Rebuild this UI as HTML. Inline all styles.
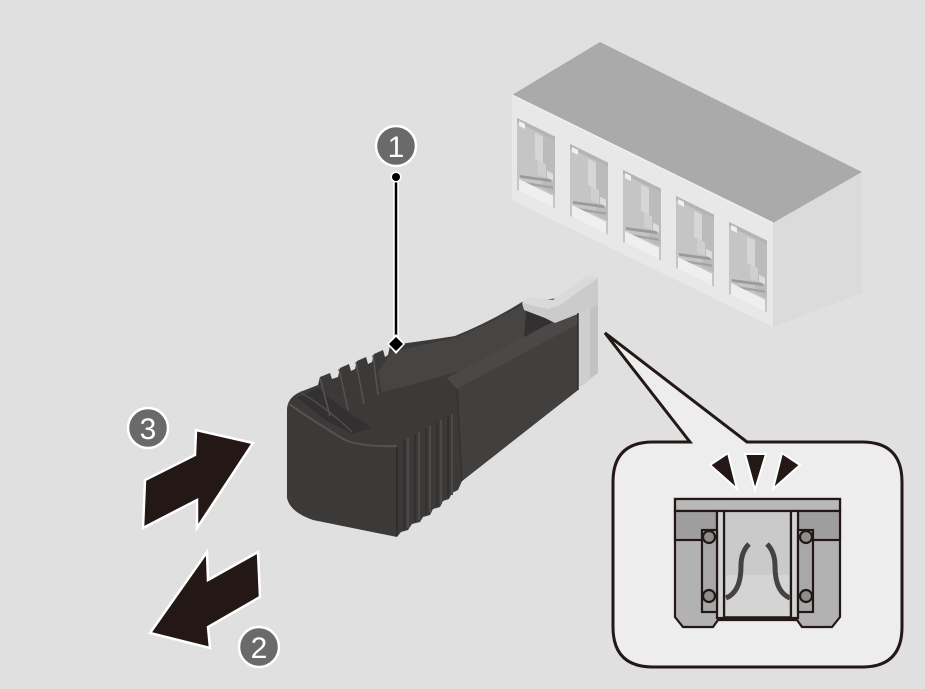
<!DOCTYPE html>
<html>
<head>
<meta charset="utf-8">
<style>
html,body{margin:0;padding:0;background:#dfe0df;}
svg{display:block;}
text{font-family:"Liberation Sans","DejaVu Sans",sans-serif;}
</style>
</head>
<body>
<svg width="925" height="689" viewBox="0 0 925 689" xmlns="http://www.w3.org/2000/svg">
  <rect x="0" y="0" width="925" height="689" fill="#dfe0df"/>

  <!-- ===== Connector block ===== -->
  <defs>
    <g id="port">
      <rect x="0" y="0" width="38" height="72" fill="#c4c5c4"/>
      <rect x="0" y="0" width="38" height="4" fill="#b4b4b4"/>
      <rect x="2" y="2" width="6" height="5" fill="#f0f0f0"/>
      <rect x="26" y="4" width="12" height="54" fill="#bbbbbb"/>
      <rect x="18" y="6" width="8" height="26" fill="#d6d6d6"/>
      <rect x="21" y="32" width="8" height="14" fill="#cfcfcf"/>
      <rect x="30" y="38" width="6" height="7" fill="#dcdcdc"/>
      <line x1="3" y1="57" x2="34" y2="46" stroke="#9a9a9a" stroke-width="2.6"/>
      <line x1="6" y1="62" x2="36" y2="52" stroke="#a2a2a2" stroke-width="2.2"/>
      <rect x="2" y="60" width="34" height="12" fill="#efefef"/>
    </g>
  </defs>
  <polygon points="512,95 600,42 862,172 773,223" fill="#a9aaa9"/>
  <polygon points="512,95 773,223 773,327 512,200" fill="#e8e8e8"/>
  <polygon points="773,223 862,172 862,293 773,327" fill="#dadbda"/>
  <line x1="512" y1="95" x2="773" y2="223" stroke="#f0f0f0" stroke-width="1.5"/>
  <use href="#port" transform="translate(517,118) skewY(26.1)"/>
  <use href="#port" transform="translate(570,144) skewY(26.1)"/>
  <use href="#port" transform="translate(623,170) skewY(26.1)"/>
  <use href="#port" transform="translate(676,196) skewY(26.1)"/>
  <use href="#port" transform="translate(729,222) skewY(26.1)"/>

  <!-- ===== Plug ===== -->
  <!-- light block at end -->
  <polygon points="576,309 598,300 598,373 582,386 576,386" fill="#cfcfcf"/>
  <polygon points="590,304 598,300 598,373 590,378" fill="#c2c2c2"/>
  <rect x="548" y="398" width="6" height="8" fill="#bdbdbd"/>
  <!-- silhouette -->
  <path d="M287,410 Q287,398 300,392 L318,385
    L320,377 L330,373 L332,379
    L338,377 L340,368 L349,364 L351,371
    L355,369 L357,361 L366,357 L368,364
    L372,362 L374,354 L383,350 L385,357
    L388,355 L390,346 L400,344
    Q430,340 455,336 Q490,322 522,302 L560,298 L578,313 L578,390
    L462,481 L458,490 L452,493 L449,499 L443,501 L440,507 L433,509 L430,515 L423,517 L420,522 L412,524 L408,530 L401,532 L397,537
    L313,520 Q290,512 287,498 Z" fill="#3c3a39"/>
  <!-- channel behind lever -->
  <polygon points="513,308 560,299 562,318 525,338" fill="#323030"/>
  <!-- lever arm top face -->
  <path d="M378,372 L392,352 Q425,344 455,338 Q490,324 523,304 L526,312 L524,337 Q505,350 487,362 Q440,378 382,392 Z" fill="#474544"/>
  <!-- right block top strip -->
  <polygon points="447,378 560,318 578,316 578,324 457,389" fill="#4b4948"/>
  <!-- right block side face -->
  <polygon points="457,389 578,324 578,390 462,481" fill="#42403f"/>
  <line x1="457" y1="389" x2="462" y2="481" stroke="#343231" stroke-width="1.5"/>
  <!-- cap recess -->
  <polygon points="298,398 318,388 345,410 372,428 352,434 325,420" fill="#323030"/>
  <!-- cap rim highlight -->
  <path d="M289,404 Q318,424 345,440 Q362,447 397,446" fill="none" stroke="#555352" stroke-width="2"/>
  <path d="M300,392 Q330,410 352,432" fill="none" stroke="#4e4c4b" stroke-width="1.5"/>
  <line x1="397" y1="447" x2="397" y2="536" stroke="#2f2d2d" stroke-width="2"/>
  <!-- ribs on side -->
  <g stroke="#4d4b4a" stroke-width="2">
    <line x1="408" y1="438" x2="408" y2="528"/>
    <line x1="419" y1="432" x2="419" y2="520"/>
    <line x1="430" y1="426" x2="430" y2="512"/>
    <line x1="441" y1="420" x2="441" y2="504"/>
    <line x1="452" y1="414" x2="452" y2="495"/>
  </g>
  <g stroke="#2f2d2d" stroke-width="1.5">
    <line x1="404" y1="440" x2="404" y2="530"/>
    <line x1="415" y1="434" x2="415" y2="522"/>
    <line x1="426" y1="428" x2="426" y2="514"/>
    <line x1="437" y1="422" x2="437" y2="506"/>
    <line x1="448" y1="416" x2="448" y2="497"/>
  </g>
  <!-- top ribs -->
  <g stroke="#555352" stroke-width="1.5">
    <line x1="320" y1="378" x2="330" y2="416"/>
    <line x1="339" y1="369" x2="348" y2="410"/>
    <line x1="356" y1="362" x2="364" y2="404"/>
    <line x1="373" y1="355" x2="378" y2="395"/>
  </g>
  <!-- light latch tab -->
  <polygon points="522,303 530,297 553,300 588,275 598,278 598,305 578,314 555,323 545,318 524,310" fill="#cbcbcb"/>
  <polygon points="522,303 530,297 553,300 588,275 598,278 560,305 548,309" fill="#dadada"/>
  <line x1="578" y1="313" x2="578" y2="390" stroke="#2e2c2c" stroke-width="1.5"/>

  <!-- ===== Leader line 1 ===== -->
  <line x1="396" y1="176" x2="396" y2="343" stroke="#ffffff" stroke-width="5.5"/>
  <line x1="396" y1="176" x2="396" y2="343" stroke="#000000" stroke-width="2.5"/>
  <circle cx="396" cy="177" r="5.5" fill="#ffffff"/>
  <circle cx="396" cy="177" r="4" fill="#000000"/>
  <polygon points="396,334 405,344 396,354 387,344" fill="#ffffff"/>
  <polygon points="396,337 403,344 396,351 389,344" fill="#000000"/>

  <!-- ===== Number badges ===== -->
  <circle cx="396" cy="146" r="20" fill="#6b6a6a" stroke="#ffffff" stroke-width="2.5"/>
  <text x="396" y="157" text-anchor="middle" font-size="30" fill="#ffffff">1</text>
  <circle cx="148" cy="428" r="20" fill="#6b6a6a" stroke="#ffffff" stroke-width="2.5"/>
  <text x="148" y="439" text-anchor="middle" font-size="30" fill="#ffffff">3</text>
  <circle cx="259" cy="647" r="20" fill="#6b6a6a" stroke="#ffffff" stroke-width="2.5"/>
  <text x="259" y="658" text-anchor="middle" font-size="30" fill="#ffffff">2</text>

  <!-- ===== Arrows ===== -->
  <polygon points="143,528 145,480 195,455 196,430 253,443 197,528 197,500" fill="#231815" stroke="#ffffff" stroke-width="2.5" stroke-linejoin="miter"/>
  <polygon points="258,552 260,597 208,627 210,648 150,633 207,552 208,580" fill="#231815" stroke="#ffffff" stroke-width="2.5" stroke-linejoin="miter"/>

  <!-- ===== Callout ===== -->
  <path d="M690,442 L605,333 L747,442 L862,442 Q902,442 902,482 L902,627 Q902,667 862,667 L653,667 Q613,667 613,627 L613,482 Q613,442 653,442 Z"
        fill="#ededed" stroke="#231815" stroke-width="3" stroke-linejoin="miter"/>
  <g fill="#231815" stroke="#ffffff" stroke-width="2" stroke-linejoin="miter">
    <polygon points="710,465 728,453 737,489"/>
    <polygon points="745,454 766,454 755,490"/>
    <polygon points="782,453 800,465 773,489"/>
  </g>
  <g stroke="#231815" stroke-width="2.2">
    <path d="M675,499 L840,499 L840,617 L832,627 L802,627 L797,620 L718,620 L713,627 L683,627 L675,617 Z" fill="#b2b2b2"/>
    <rect x="675" y="499" width="165" height="12" fill="#b8b8b8"/>
    <rect x="675" y="511" width="42" height="29" fill="#9e9e9e"/>
    <rect x="798" y="511" width="42" height="29" fill="#9e9e9e"/>
    <rect x="724" y="511" width="67" height="107" fill="#cacaca"/>
    <rect x="717" y="511" width="7" height="107" fill="#d2d2d2"/>
    <rect x="791" y="511" width="7" height="107" fill="#d2d2d2"/>
    <rect x="702" y="530" width="15" height="82" fill="#a8a8a8"/>
    <rect x="798" y="530" width="15" height="82" fill="#a8a8a8"/>
    <circle cx="709" cy="537" r="6" fill="#8e8e8e"/>
    <circle cx="709" cy="596" r="6" fill="#8e8e8e"/>
    <circle cx="806" cy="537" r="6" fill="#8e8e8e"/>
    <circle cx="806" cy="596" r="6" fill="#8e8e8e"/>
  </g>
  <rect x="726" y="575" width="63" height="41" fill="#d4d4d4"/>
  <line x1="724" y1="618" x2="791" y2="618" stroke="#231815" stroke-width="3.5"/>
  <g fill="none" stroke="#454342" stroke-width="5" stroke-linecap="butt">
    <path d="M749,544 Q741,552 741,566 Q741,592 726,598"/>
    <path d="M767,544 Q775,552 775,566 Q775,592 790,598"/>
  </g>
</svg>
</body>
</html>
